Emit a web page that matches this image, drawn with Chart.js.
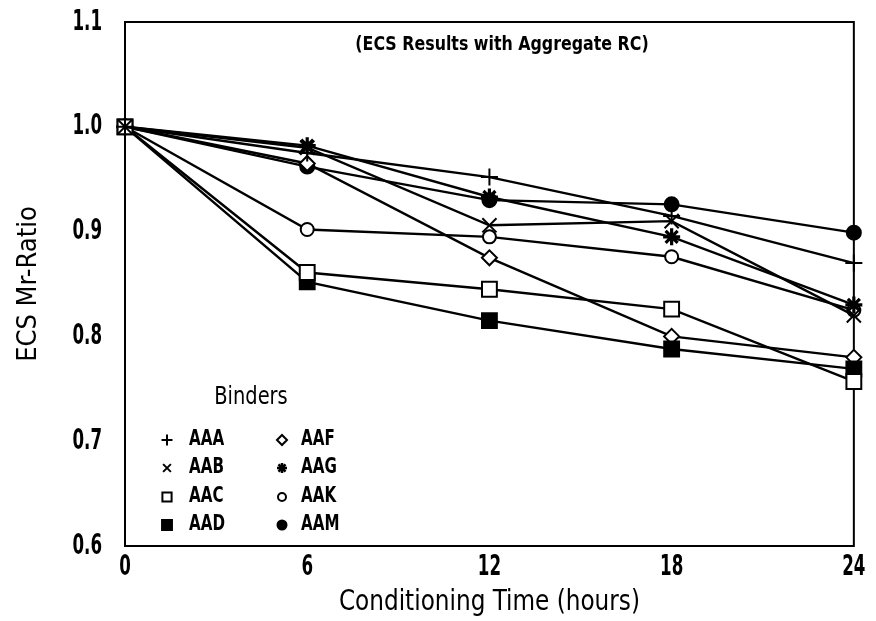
<!DOCTYPE html>
<html>
<head>
<meta charset="utf-8">
<script src="https://cdn.jsdelivr.net/npm/chart.js@4/dist/chart.umd.min.js"></script>
<style>
  html, body { margin: 0; padding: 0; background: #fff; }
  #wrap { width: 876px; height: 621px; }
</style>
</head>
<body>
<div id="wrap"><canvas id="c" width="876" height="621"></canvas></div>
<script>
// Conditioning time (hours) and tick values
const hours = [0, 6, 12, 18, 24];
const xTicks = [0, 6, 12, 18, 24];
const yTicks = [0.6, 0.7, 0.8, 0.9, 1.0, 1.1];

// ECS Mr-ratio per binder
const binderNames = ['AAA', 'AAB', 'AAC', 'AAD', 'AAF', 'AAG', 'AAK', 'AAM'];
const aaa = [1.0, 0.975, 0.952, 0.915, 0.870];
const aab = [1.0, 0.980, 0.906, 0.910, 0.820];
const aac = [1.0, 0.861, 0.845, 0.826, 0.757];
const aad = [1.0, 0.852, 0.815, 0.788, 0.769];
const aaf = [1.0, 0.965, 0.875, 0.800, 0.780];
const aag = [1.0, 0.982, 0.933, 0.895, 0.830];
const aak = [1.0, 0.902, 0.895, 0.876, 0.825];
const aam = [1.0, 0.962, 0.930, 0.926, 0.899];
const seriesValues = [aaa, aab, aac, aad, aaf, aag, aak, aam];

// Marker look for each binder (plot size and key size)
const markerStyles = {
  AAA: { style: 'cross',    radius: 8.5, fill: '#000', lw: 2,   key: 5.5 },
  AAB: { style: 'crossRot', radius: 10,  fill: '#000', lw: 2,   key: 5.5 },
  AAC: { style: 'rect',     radius: 10.5,fill: '#fff', lw: 2,   key: 6.5 },
  AAD: { style: 'rect',     radius: 10.5,fill: '#000', lw: 2,   key: 7 },
  AAF: { style: 'rectRot',  radius: 7.5, fill: '#fff', lw: 2,   key: 5 },
  AAG: { style: 'star',     radius: 8.5, fill: '#000', lw: 3.2, key: 5 },
  AAK: { style: 'circle',   radius: 6.5, fill: '#fff', lw: 2,   key: 4 },
  AAM: { style: 'circle',   radius: 7,   fill: '#000', lw: 2,   key: 4.5 }
};

const FONT = "'DejaVu Sans Condensed', 'Liberation Sans Narrow', 'Arial Narrow', sans-serif";
const TICK_SQUEEZE = 0.64;   // plotter-style narrow digits on the axes

const datasets = binderNames.map((name, i) => {
  const m = markerStyles[name];
  return {
    label: name,
    data: hours.map((h, j) => ({ x: h, y: seriesValues[i][j] })),
    borderColor: '#000',
    borderWidth: 2.4,
    tension: 0,
    fill: false,
    clip: false,
    pointStyle: m.style,
    pointRadius: m.radius,
    pointHoverRadius: m.radius,
    pointBackgroundColor: m.fill,
    pointBorderColor: '#000',
    pointBorderWidth: m.lw
  };
});

// Narrow the axis tick text while the scales are painted
const squeezeTicksPlugin = {
  id: 'squeezeTicks',
  beforeDraw(chart) {
    const ctx = chart.ctx;
    const plain = ctx.fillText;
    ctx._plainFillText = plain;
    ctx.fillText = function (t, x, y, mw) {
      const w = this.measureText(t).width * TICK_SQUEEZE;
      return plain.call(this, t, x, y, mw === undefined ? w : Math.min(mw, w));
    };
  },
  beforeDatasetsDraw(chart) {
    const ctx = chart.ctx;
    if (ctx._plainFillText) {
      ctx.fillText = ctx._plainFillText;
      delete ctx._plainFillText;
    }
  }
};

// Box around the plotting area
const framePlugin = {
  id: 'frame',
  beforeDatasetsDraw(chart) {
    const { ctx, chartArea: a } = chart;
    ctx.save();
    ctx.strokeStyle = '#000';
    ctx.lineWidth = 2;
    ctx.strokeRect(a.left, a.top, a.right - a.left, a.bottom - a.top);
    ctx.restore();
  }
};

function squeezed(ctx, text, x, y, ratio) {
  ctx.fillText(text, x, y, ctx.measureText(text).width * ratio);
}

// Axis captions, in-plot heading and the "Binders" key
const notesPlugin = {
  id: 'notes',
  afterDraw(chart) {
    const { ctx, chartArea: a } = chart;
    ctx.save();
    ctx.fillStyle = '#000';
    ctx.textBaseline = 'middle';
    ctx.textAlign = 'center';

    ctx.font = 'bold 20px ' + FONT;
    squeezed(ctx, '(ECS Results with Aggregate RC)', 502, 45, 0.88);

    ctx.font = '28px ' + FONT;
    squeezed(ctx, 'Conditioning Time (hours)', (a.left + a.right) / 2, 603, 0.92);

    ctx.save();
    ctx.translate(29, (a.top + a.bottom) / 2);
    ctx.rotate(-Math.PI / 2);
    ctx.font = '27px ' + FONT;
    squeezed(ctx, 'ECS Mr-Ratio', 0, 0, 1.0);
    ctx.restore();

    ctx.font = '24px ' + FONT;
    squeezed(ctx, 'Binders', 251, 398, 0.9);

    const cols = [
      { mx: 167, tx: 189, names: ['AAA', 'AAB', 'AAC', 'AAD'] },
      { mx: 282, tx: 301, names: ['AAF', 'AAG', 'AAK', 'AAM'] }
    ];
    const rows = [440, 468, 497, 525];
    ctx.textAlign = 'left';
    ctx.font = 'bold 21px ' + FONT;
    cols.forEach(col => {
      col.names.forEach((name, r) => {
        const ds = chart.data.datasets[binderNames.indexOf(name)];
        const m = markerStyles[name];
        ctx.fillStyle = ds.pointBackgroundColor;
        ctx.strokeStyle = '#000';
        ctx.lineWidth = m.style === 'star' ? 2.5 : 2;
        Chart.helpers.drawPoint(ctx, {
          pointStyle: ds.pointStyle,
          radius: m.key,
          borderWidth: ctx.lineWidth,
          rotation: 0
        }, col.mx, rows[r]);
        ctx.fillStyle = '#000';
        squeezed(ctx, name, col.tx, rows[r], 0.8);
      });
    });
    ctx.restore();
  }
};

new Chart(document.getElementById('c'), {
  type: 'line',
  data: { datasets },
  options: {
    responsive: false,
    animation: false,
    devicePixelRatio: 1,
    layout: { padding: { left: 0, right: 19, top: 22, bottom: 0 } },
    plugins: { legend: { display: false }, tooltip: { enabled: false } },
    scales: {
      x: {
        type: 'linear',
        min: 0, max: 24,
        afterBuildTicks: s => { s.ticks = xTicks.map(v => ({ value: v })); },
        afterFit: s => { s.height = 75; },
        grid: { display: false, drawTicks: false },
        border: { display: false },
        ticks: { color: '#000', padding: 4, maxRotation: 0,
                 font: { family: FONT, size: 29, weight: 'bold' } },
        title: { display: false }
      },
      y: {
        type: 'linear',
        min: 0.6, max: 1.1,
        afterBuildTicks: s => { s.ticks = yTicks.map(v => ({ value: v })); },
        afterFit: s => { s.width = 125; s.paddingTop = 0; s.paddingBottom = 0; },
        grid: { display: false, drawTicks: false },
        border: { display: false },
        ticks: { color: '#000', padding: 23, callback: v => Number(v).toFixed(1),
                 font: { family: FONT, size: 29, weight: 'bold' } },
        title: { display: false }
      }
    }
  },
  plugins: [squeezeTicksPlugin, framePlugin, notesPlugin]
});
</script>
</body>
</html>
